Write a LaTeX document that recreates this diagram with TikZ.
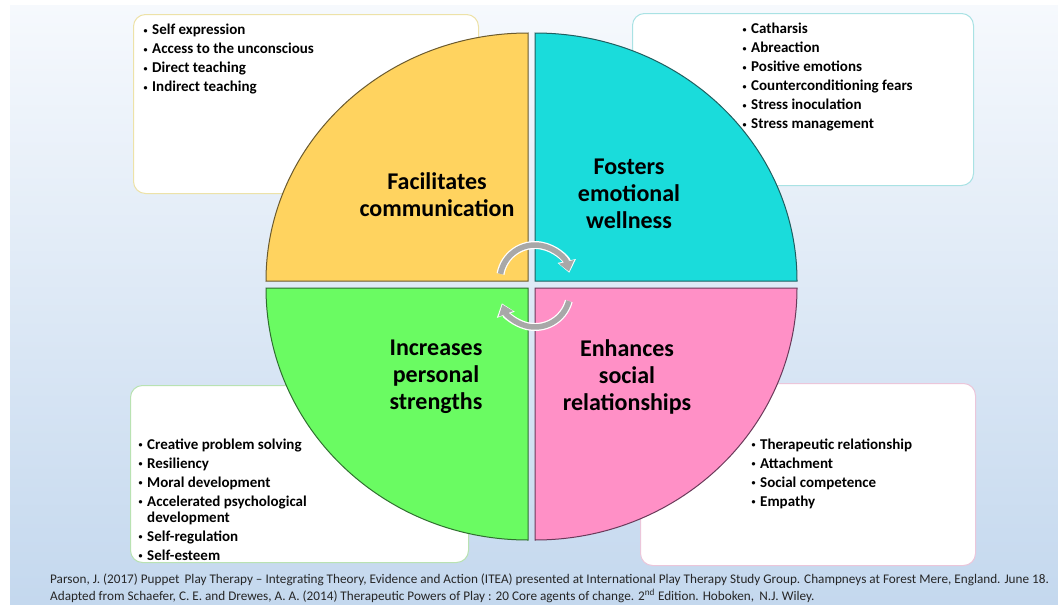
\documentclass[tikz,border=0pt]{standalone}
\usepackage{fontspec}
\setmainfont{Carlito}
\usetikzlibrary{arrows.meta,calc}
\definecolor{bgtop}{HTML}{F6F9FD}
\definecolor{bgbot}{HTML}{C4D8EE}
\definecolor{qyellow}{HTML}{FFD35F}
\definecolor{qcyan}{HTML}{1ADCDB}
\definecolor{qgreen}{HTML}{6AFB62}
\definecolor{qpink}{HTML}{FF90C6}
\definecolor{eyellow}{HTML}{6B5A2E}
\definecolor{ecyan}{HTML}{1F5F60}
\definecolor{egreen}{HTML}{2F6F2F}
\definecolor{epink}{HTML}{6A3A5A}
\definecolor{byellow}{HTML}{EDE2A8}
\definecolor{bcyan}{HTML}{A9E2E4}
\definecolor{bgreen}{HTML}{B9E2B2}
\definecolor{bpink}{HTML}{EBC6DA}
\definecolor{arrowgray}{HTML}{A8A8A8}
\newcommand\itm[1]{\makebox[9pt][l]{\hspace*{0.5pt}\raisebox{1.6pt}{\fontsize{8}{8}\selectfont•}}#1}
\tikzset{
  infobox/.style={draw=#1, line width=1pt, fill=white, rounded corners=12pt, anchor=north west, inner sep=0pt},
  quad/.style={line width=1pt},
  listtext/.style={anchor=north west, align=left, inner sep=0pt, font=\bfseries\fontsize{15}{19}\selectfont, text=black},
  title/.style={align=center, inner sep=0pt, font=\bfseries\fontsize{24}{27}\selectfont, text=black},
  footer/.style={anchor=west, inner sep=0pt, font=\fontsize{13.2}{16}\selectfont, text=black!85},
  cyclearrow/.style={line width=5.5pt, draw=arrowgray, -{Triangle[width=15pt,length=10pt]}},
  cycleback/.style={line width=8pt, draw=white, -{Triangle[width=18pt,length=12pt]}}
}
\begin{document}
\begin{tikzpicture}[x=1pt,y=-1pt]
\useasboundingbox (0,0) rectangle (1058,605);
\fill[white] (0,0) rectangle (1058,605);
\shade[top color=bgtop, bottom color=bgbot] (10,5) rectangle (1058,605);

% boxes
\node[infobox=byellow, minimum width=345pt, minimum height=179pt] (tlbox) at (133,14) {};
\node[infobox=bcyan, minimum width=341pt, minimum height=172pt] (trbox) at (632,13) {};
\node[infobox=bgreen, minimum width=338pt, minimum height=177pt] (blbox) at (130,385) {};
\node[infobox=bpink, minimum width=335pt, minimum height=182pt] (brbox) at (640,383) {};

% quadrants
\draw[quad, fill=qyellow, draw=eyellow] (528,281) -- (266,281) .. controls (266,144) and (383.3,33) .. (528,33) -- cycle;
\draw[quad, fill=qcyan, draw=ecyan] (535,281) -- (535,33) .. controls (679.7,33) and (797,144) .. (797,281) -- cycle;
\draw[quad, fill=qgreen, draw=egreen] (528,288) -- (266,288) .. controls (266,427.2) and (383.3,540) .. (528,540) -- cycle;
\draw[quad, fill=qpink, draw=epink] (535,288) -- (797,288) .. controls (797,427.2) and (679.7,540) .. (535,540) -- cycle;

% lists
\node[listtext] (tllist) at (143,24) {\itm{Self expression}\\ \itm{Access to the unconscious}\\ \itm{Direct teaching}\\ \itm{Indirect teaching}};
\node[listtext] (trlist) at (742,23) {\itm{Catharsis}\\ \itm{Abreaction}\\ \itm{Positive emotions}\\ \itm{Counterconditioning fears}\\ \itm{Stress inoculation}\\ \itm{Stress management}};
\node[listtext] (bllist) at (138,438.5) {\itm{Creative problem solving}\\ \itm{Resiliency}\\ \itm{Moral development}\\ \itm{Accelerated psychological}\\[-3pt] \hspace*{9pt}development\\ \itm{Self-regulation}\\ \itm{Self-esteem}};
\node[listtext] (brlist) at (751,438.5) {\itm{Therapeutic relationship}\\ \itm{Attachment}\\ \itm{Social competence}\\ \itm{Empathy}};

% titles
\node[title] (tyellow) at (437,195) {Facilitates\\communication};
\node[title] (tcyan) at (629,194) {Fosters\\emotional\\wellness};
\node[title] (tgreen) at (436,377) {Increases\\personal\\strengths};
\node[title] (tpink) at (627,377) {Enhances\\social\\relationships};

% cycle arrows
\coordinate (topstart) at ($(535,280)+(170:35pt)$);
\coordinate (botstart) at ($(535,292)+(-15:35pt)$);
\draw[cycleback] (topstart) arc[start angle=170, end angle=12, radius=35pt];
\draw[cyclearrow] (topstart) arc[start angle=170, end angle=14, radius=35pt];
\draw[cycleback] (botstart) arc[start angle=-15, end angle=-161, radius=35pt];
\draw[cyclearrow] (botstart) arc[start angle=-15, end angle=-159, radius=35pt];

% footer
\node[footer] (ref1) at (50,580) {Parson, J. (2017) Puppet\, Play Therapy -- Integrating Theory, Evidence and Action (ITEA) presented at International Play Therapy Study Group. Champneys at Forest Mere, England. June 18.};
\node[footer] (ref2) at (50,596) {Adapted from Schaefer, C. E. and Drewes, A. A. (2014) Therapeutic Powers of Play : 20 Core agents of change. 2\textsuperscript{nd} Edition. Hoboken, \,N.J. Wiley.};
\end{tikzpicture}
\end{document}
